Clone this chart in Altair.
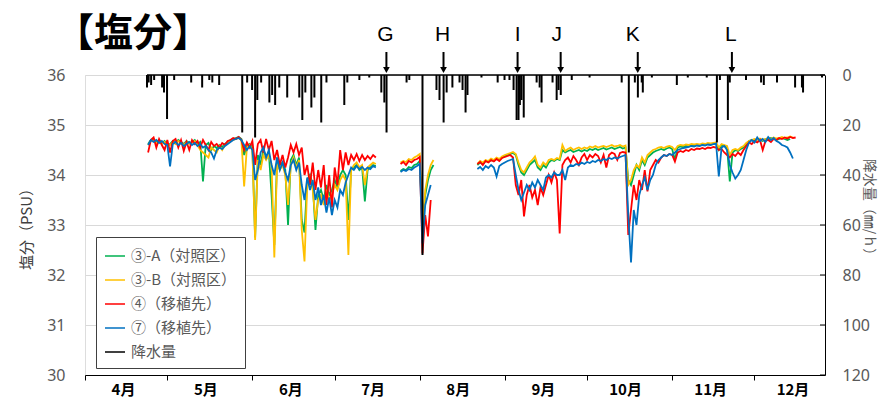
import altair as alt
import pandas as pd

# ---------------- data ----------------
TITLE = "【塩分】"
SERIES = ["③-A（対照区）", "③-B（対照区）", "④（移植先）", "⑦（移植先）"]
RAIN_NAME = "降水量"
COLORS = ["#00b050", "#ffc000", "#ff0000", "#0070c0", "#000000"]

# x axis: days counted from 4/1
MONTH_DAYS = [0, 30, 61, 91, 122, 153, 183, 214, 244]
MONTH_LABELS = ["4月", "5月", "6月", "7月", "8月", "9月", "10月", "11月", "12月"]
X_END = 269.7

# first day of each observation segment
SEG_START = [23, 115, 143]

A_S1 = [34.62, 34.70, 34.72, 34.66, 34.70, 34.64, 34.68, 34.60, 34.62, 34.68,
        34.64, 34.70, 34.66, 34.62, 34.68, 34.64, 34.66, 34.70, 34.62, 34.66,
        33.87, 34.60, 34.64, 34.50, 34.58, 34.54, 34.60, 34.56, 34.62, 34.66,
        34.70, 34.72, 34.74, 34.76, 34.72, 34.40, 34.58, 34.62, 34.55, 32.75,
        34.40, 34.20, 34.50, 34.38, 34.45, 33.60, 32.60, 34.30, 34.20, 34.25,
        34.10, 33.00, 34.30, 34.40, 34.20, 34.35, 33.10, 32.85, 33.90, 34.00,
        33.80, 32.90, 33.60, 33.70, 33.50, 33.80, 33.60, 33.70, 33.90, 33.75,
        34.00, 34.10, 34.00, 33.10, 34.10, 34.15, 34.20, 34.10, 34.15, 33.47,
        34.10, 34.15, 34.20, 34.18]
A_S2 = [34.08, 34.12, 34.10, 34.16, 34.14, 34.20, 34.22, 34.28, 33.00, 33.60, 33.90, 34.10, 34.20]
A_S3 = [34.20, 34.25, 34.22, 34.28, 34.26, 34.30, 34.28, 34.33, 34.30, 34.35,
        34.38, 34.40, 34.42, 34.44, 34.40, 34.20, 34.05, 34.00, 34.10, 34.20,
        34.25, 34.30, 34.15, 34.10, 34.20, 34.15, 34.25, 34.30, 34.28, 34.32,
        34.30, 34.50, 34.45, 34.48, 34.50, 34.46, 34.48, 34.50, 34.47, 34.50,
        34.48, 34.52, 34.50, 34.53, 34.50, 34.52, 34.54, 34.51, 34.53, 34.55,
        34.52, 34.54, 34.56, 34.53, 34.55, 33.90, 33.80, 34.00, 34.20, 34.10,
        34.30, 34.20, 34.35, 34.40, 34.45, 34.48, 34.50, 34.52, 34.50, 34.53,
        34.55, 34.52, 34.30, 34.55, 34.57, 34.56, 34.58, 34.57, 34.59, 34.58,
        34.60, 34.59, 34.61, 34.60, 34.62, 34.61, 34.62, 34.63, 34.50, 34.60,
        34.58, 34.55, 33.87, 34.45, 34.50, 34.48, 34.52, 34.55, 34.62, 34.68,
        34.70, 34.68, 34.72, 34.70, 34.68, 34.72, 34.70, 34.74, 34.72, 34.70,
        34.72, 34.74, 34.72, 34.70, 34.72]

B_S1 = [34.60, 34.68, 34.70, 34.64, 34.68, 34.62, 34.66, 34.58, 34.60, 34.66,
        34.62, 34.68, 34.64, 34.60, 34.66, 34.62, 34.64, 34.68, 34.60, 34.50,
        34.45, 34.40, 34.35, 34.55, 34.50, 34.45, 34.58, 34.50, 34.60, 34.64,
        34.68, 34.70, 34.72, 34.74, 34.70, 33.77, 34.55, 34.60, 34.50, 32.70,
        34.30, 34.10, 34.40, 34.30, 34.40, 34.20, 32.35, 34.20, 34.10, 34.20,
        34.00, 33.40, 34.20, 34.35, 34.15, 34.30, 32.90, 32.27, 33.80, 33.95,
        33.70, 33.10, 33.50, 33.60, 33.40, 33.70, 33.50, 33.60, 33.80, 33.70,
        33.90, 34.00, 33.90, 32.40, 34.10, 34.20, 34.25, 34.15, 34.20, 33.80,
        34.15, 34.20, 34.25, 34.22]
B_S2 = [34.25, 34.28, 34.26, 34.32, 34.30, 34.35, 34.38, 34.42, 32.90, 33.70, 34.00, 34.20, 34.30]
B_S3 = [34.22, 34.28, 34.25, 34.30, 34.28, 34.33, 34.30, 34.35, 34.32, 34.37,
        34.40, 34.42, 34.44, 34.46, 34.42, 34.25, 34.10, 34.05, 34.15, 34.25,
        34.30, 34.37, 34.20, 34.15, 34.25, 34.20, 34.30, 34.32, 34.30, 34.34,
        34.32, 34.60, 34.48, 34.52, 34.55, 34.50, 34.53, 34.55, 34.52, 34.55,
        34.53, 34.57, 34.55, 34.58, 34.55, 34.57, 34.58, 34.56, 34.58, 34.60,
        34.57, 34.58, 34.60, 34.57, 34.59, 33.80, 33.90, 34.10, 34.20, 34.15,
        34.35, 34.25, 34.40, 34.45, 34.50, 34.52, 34.55, 34.56, 34.54, 34.57,
        34.58, 34.56, 34.50, 34.58, 34.60, 34.59, 34.61, 34.60, 34.62, 34.61,
        34.62, 34.61, 34.63, 34.62, 34.64, 34.63, 34.64, 34.65, 34.55, 34.62,
        34.60, 34.58, 34.40, 34.50, 34.52, 34.50, 34.55, 34.58, 34.64, 34.68,
        34.70, 34.72, 34.70, 34.73, 34.70, 34.72, 34.74, 34.72, 34.75, 34.73,
        34.74, 34.76, 34.74, 34.75, 34.77, 34.75]

C_S1 = [34.45, 34.70, 34.75, 34.55, 34.72, 34.60, 34.50, 34.70, 34.45, 34.68,
        34.72, 34.55, 34.70, 34.48, 34.66, 34.50, 34.70, 34.62, 34.68, 34.55,
        34.70, 34.60, 34.50, 34.66, 34.58, 34.62, 34.55, 34.64, 34.60, 34.68,
        34.70, 34.74, 34.72, 34.76, 34.70, 34.50, 34.65, 34.55, 34.68, 34.20,
        34.62, 34.70, 34.45, 34.72, 34.50, 34.68, 34.30, 34.50, 34.20, 34.40,
        34.15, 34.35, 34.60, 34.45, 34.62, 34.40, 34.55, 34.00, 34.20, 33.80,
        34.25, 33.70, 34.10, 33.75, 34.20, 33.40, 34.00, 33.35, 34.15, 33.80,
        34.50, 34.10, 34.45, 34.20, 34.40, 34.30, 34.42, 34.28, 34.40, 34.30,
        34.38, 34.32, 34.40, 34.35]
C_S2 = [34.22, 34.26, 34.20, 34.28, 34.25, 34.30, 34.32, 34.36, 32.43, 33.20, 32.77, 33.50]
C_S3 = [34.22, 34.26, 34.20, 34.28, 34.25, 34.30, 34.27, 34.32, 34.28, 34.34,
        34.36, 34.38, 34.40, 34.35, 33.80, 33.60, 33.90, 33.17, 33.60, 33.80,
        33.55, 33.70, 33.40, 33.75, 33.60, 33.80, 34.00, 33.85, 34.05, 33.90,
        32.83, 34.20, 34.30, 34.35, 34.25, 34.38, 34.30, 34.20, 34.35, 34.42,
        34.30, 34.40, 34.35, 34.42, 34.38, 34.25, 34.40, 34.15, 34.40, 34.45,
        34.42, 34.30, 34.44, 34.46, 34.45, 32.80, 33.30, 33.80, 33.50, 33.90,
        33.70, 34.10, 33.67, 34.10, 34.20, 34.30, 34.25, 34.35, 34.40, 34.38,
        34.42, 34.40, 34.27, 34.45, 34.48, 34.46, 34.50, 34.48, 34.52, 34.50,
        34.53, 34.52, 34.54, 34.52, 34.55, 34.54, 34.56, 34.55, 34.50, 34.52,
        34.45, 34.40, 34.35, 34.42, 34.38, 34.45, 34.40, 34.50, 34.58, 34.65,
        34.62, 34.68, 34.65, 34.70, 34.50, 34.68, 34.70, 34.66, 34.72, 34.70,
        34.74, 34.72, 34.75, 34.73, 34.76, 34.74, 34.75]

D_S1 = [34.60, 34.70, 34.66, 34.70, 34.64, 34.68, 34.62, 34.60, 34.17, 34.62,
        34.66, 34.60, 34.64, 34.58, 34.62, 34.66, 34.60, 34.64, 34.58, 34.62,
        34.55, 34.58, 34.50, 34.45, 34.33, 34.50, 34.55, 34.52, 34.58, 34.62,
        34.66, 34.70, 34.72, 34.74, 34.70, 34.60, 34.50, 34.58, 34.50, 33.90,
        34.10, 34.45, 34.55, 34.35, 34.50, 34.20, 34.00, 34.35, 34.10, 34.25,
        34.05, 33.90, 34.20, 34.30, 34.10, 34.25, 33.80, 33.50, 33.95, 33.70,
        33.90, 33.50, 33.75, 33.40, 33.60, 33.25, 33.55, 33.20, 33.50, 33.35,
        33.70, 33.60, 33.85, 34.00, 34.15, 34.10, 34.18, 34.12, 34.16, 34.10,
        34.15, 34.12, 34.18, 34.15]
D_S2 = [34.06, 34.10, 34.08, 34.12, 34.10, 34.15, 34.18, 34.22, 32.63, 33.40, 33.60, 33.80]
D_S3 = [34.12, 34.16, 34.10, 34.18, 34.14, 34.20, 34.15, 33.97, 34.18, 34.22,
        34.25, 34.28, 34.30, 34.32, 34.00, 33.70, 33.50, 33.65, 33.80, 33.70,
        33.85, 33.75, 33.90, 33.80, 33.70, 33.95, 34.00, 33.95, 34.05, 34.00,
        34.00, 34.10, 33.90, 34.15, 34.20, 34.18, 34.22, 34.20, 34.25, 34.22,
        34.26, 34.24, 34.28, 34.26, 34.30, 34.28, 34.32, 34.30, 34.34, 34.32,
        34.35, 34.33, 34.36, 34.38, 34.40, 33.20, 32.25, 33.30, 33.00, 33.60,
        33.80, 33.95, 33.70, 33.90, 34.00, 34.20, 34.30, 34.35, 34.40, 34.38,
        34.42, 34.40, 34.45, 34.50, 34.52, 34.54, 34.55, 34.56, 34.58, 34.57,
        34.59, 34.58, 34.60, 34.59, 34.61, 34.60, 34.62, 34.63, 33.97, 34.55,
        34.58, 34.50, 34.20, 34.05, 33.93, 34.00, 34.10, 34.30, 34.50, 34.65,
        34.70, 34.65, 34.75, 34.68, 34.72, 34.66, 34.76, 34.70, 34.74, 34.68,
        34.65, 34.60, 34.58, 34.55, 34.45, 34.33]

# rainfall (mm/h) spikes
RAIN_DAY = [22.6, 23.2, 24.1, 25.2, 28.1, 28.8, 29.9, 32.5, 38.7, 42.7, 45.3, 46.4, 48.9,
            57.3, 59.1, 60.9, 62.0, 62.8, 64.2, 67.2, 68.2, 69.3, 70.8, 73.7, 78.1, 79.2,
            80.3, 82.5, 83.6, 86.1, 88.0, 94.5, 95.6, 100.0, 103.6, 108.0, 109.1, 109.9,
            117.2, 118.2, 123.0, 128.1, 129.2, 130.7, 131.8, 133.9, 136.5, 137.6, 138.7,
            139.4, 144.5, 150.4, 152.9, 154.7, 156.2, 157.3, 158.0, 158.5, 159.1, 159.9,
            164.6, 165.7, 166.4, 170.4, 171.9, 172.6, 173.4, 177.4, 183.9, 195.6, 198.2,
            200.4, 201.5, 202.9, 203.3, 206.6, 215.7, 219.7, 226.6, 230.3, 231.4, 234.3,
            235.0, 240.9, 246.4, 247.4, 252.2, 258.8, 261.3, 261.7, 268.6]
RAIN_MM = [5, 3, 4, 2, 5, 7, 17.6, 2, 3, 5, 2, 3, 4,
           23, 3, 6, 25, 10, 3, 11, 8, 12, 5, 9, 9, 18,
           7, 13, 9, 19, 3, 12, 3, 2, 1, 7, 11, 23,
           3, 2, 72, 6, 10, 19, 7, 5, 3, 6, 15,
           8, 1, 3, 2, 2, 6, 18, 18, 12, 10, 17,
           3, 5, 11, 3, 10, 6, 8, 2, 1, 3, 31,
           3, 9, 3, 7, 1, 4, 1, 1, 27, 2, 18,
           3, 2, 3, 4, 3, 5, 5, 7, 1]
RAIN_PERIOD = [22.6, 269.7]

# event markers
EVENT_LABELS = ["G", "H", "I", "J", "K", "L"]
EVENT_ARROW_DAY = [109.85, 130.66, 157.66, 173.36, 201.46, 235.77]
EVENT_LETTER_DAY = [109.49, 130.29, 157.66, 171.9, 199.6, 235.4]

RAIN_TICKS = [0, 20, 40, 60, 80, 100, 120]
PSU_TICKS = [30, 31, 32, 33, 34, 35, 36]

# ---------------- tables ----------------
rows = []
for name, segs in zip(SERIES, [[A_S1, A_S2, A_S3], [B_S1, B_S2, B_S3],
                               [C_S1, C_S2, C_S3], [D_S1, D_S2, D_S3]]):
    for k, (start, vals) in enumerate(zip(SEG_START, segs)):
        for i, v in enumerate(vals):
            rows.append({"series": name, "seg": k, "day": start + i, "psu": v})
sal = pd.DataFrame(rows)

rain = pd.DataFrame({"day": RAIN_DAY[:len(RAIN_MM)], "mm": RAIN_MM[:len(RAIN_DAY)]})
rain["base"] = 0
rain["series"] = RAIN_NAME
period = pd.DataFrame({"start": [RAIN_PERIOD[0]], "end": [RAIN_PERIOD[1]],
                       "level": [0], "series": [RAIN_NAME]})
rticks = pd.DataFrame({"t": RAIN_TICKS})
events = pd.DataFrame({"label": EVENT_LABELS, "aday": EVENT_ARROW_DAY,
                       "lday": EVENT_LETTER_DAY})
title_df = pd.DataFrame({"t": [TITLE]})

# ---------------- encodings ----------------
JP = "Noto Sans CJK JP"
label_expr = ("[" + ",".join(f"'{m}'" for m in MONTH_LABELS) + "][indexof(["
              + ",".join(str(d) for d in MONTH_DAYS) + "], datum.value)]")

x_scale = alt.Scale(domain=[0, X_END], nice=False, zero=False)
x_axis = alt.Axis(values=MONTH_DAYS, labelExpr=label_expr, title=None, grid=False,
                  domainColor="black", tickColor="black", tickSize=5, labelColor="black",
                  labelFont=JP, labelFontSize=15, labelFontWeight="bold",
                  labelOffset=38, labelPadding=2, labelFlush=False, labelOverlap=False)

psu_scale = alt.Scale(domain=[30, 36], nice=False, zero=False)
psu_axis = alt.Axis(values=PSU_TICKS, title="塩分（PSU）", grid=True, gridColor="#d9d9d9",
                    domain=False, ticks=False, labelColor="#595959", labelFont="Noto Sans",
                    labelFontSize=16, labelPadding=20, titleFont=JP, titleFontSize=15,
                    titleFontWeight="normal", titleColor="#404040", titlePadding=12)

rain_scale = alt.Scale(domain=[0, 120], reverse=True, nice=False, zero=True)
rain_axis = alt.Axis(orient="right", values=RAIN_TICKS, title="降水量（㎜/ｈ）", grid=False,
                     ticks=False, domain=True, domainColor="black", labelColor="#595959",
                     labelFont="Noto Sans", labelFontSize=16, labelPadding=17,
                     titleFont=JP, titleFontSize=14, titleFontWeight="normal",
                     titleColor="#595959", titleAngle=90, titleBaseline="middle",
                     titleX=43, titleY=135)

color = alt.Color("series:N",
                  scale=alt.Scale(domain=SERIES + [RAIN_NAME], range=COLORS),
                  legend=alt.Legend(orient="none", legendX=11, legendY=162, title=None,
                                    symbolType="stroke", symbolSize=400,
                                    symbolStrokeWidth=1.5, labelFont=JP,
                                    labelFontSize=15, labelColor="#595959",
                                    strokeColor="#404040", fillColor="white",
                                    padding=8, rowPadding=5, labelOffset=5))

X = alt.X("day:Q", scale=x_scale, axis=x_axis)

line_layers = []
for name in SERIES:
    line_layers.append(
        alt.Chart(sal).transform_filter(alt.datum.series == name)
        .mark_line(strokeWidth=1.8)
        .encode(x=X, y=alt.Y("psu:Q", scale=psu_scale, axis=psu_axis),
                color=color, detail="seg:N")
    )
sal_layer = alt.layer(*line_layers)

rain_rules = alt.Chart(rain).mark_rule(strokeWidth=2).encode(
    x=X, y=alt.Y("mm:Q", scale=rain_scale, axis=rain_axis), y2="base:Q", color=color)
rain_base = alt.Chart(period).mark_rule(strokeWidth=1.5).encode(
    x=alt.X("start:Q", scale=x_scale, axis=x_axis), x2="end:Q",
    y=alt.Y("level:Q", scale=rain_scale, axis=rain_axis), color=color)
rain_inticks = alt.Chart(rticks).mark_rule(color="black", strokeWidth=1).encode(
    y=alt.Y("t:Q", scale=rain_scale, axis=rain_axis),
    x=alt.value(735), x2=alt.value(740))
rain_layer = alt.layer(rain_rules, rain_base, rain_inticks)

letters = alt.Chart(events).mark_text(font="Liberation Sans", fontSize=21,
                                      baseline="middle", align="center",
                                      color="black").encode(
    x=alt.X("lday:Q", scale=x_scale, axis=x_axis), y=alt.value(-40), text="label:N")
arrows = alt.Chart(events).mark_rule(color="black", strokeWidth=2).encode(
    x=alt.X("aday:Q", scale=x_scale, axis=x_axis), y=alt.value(-23), y2=alt.value(-7))
heads = alt.Chart(events).mark_point(shape="triangle-down", filled=True, size=45,
                                     color="black", opacity=1).encode(
    x=alt.X("aday:Q", scale=x_scale, axis=x_axis), y=alt.value(-5))
title_mark = alt.Chart(title_df).mark_text(font=JP, fontSize=39, fontWeight="bold",
                                           align="left", baseline="middle",
                                           color="black").encode(
    x=alt.value(-30), y=alt.value(-41), text="t:N")

chart = (
    alt.layer(sal_layer, rain_layer, letters, arrows, heads, title_mark)
    .resolve_scale(y="independent")
    .properties(
        width=740, height=300,
        padding={"left": 77, "top": 67, "right": 54, "bottom": 23},
        autosize=alt.AutoSizeParams(type="none"),
    )
    .configure_view(stroke="#a6a6a6", strokeWidth=1)
    .configure(background="white")
)

chart.save("out.html", embed_options={"renderer": "svg", "actions": False})
